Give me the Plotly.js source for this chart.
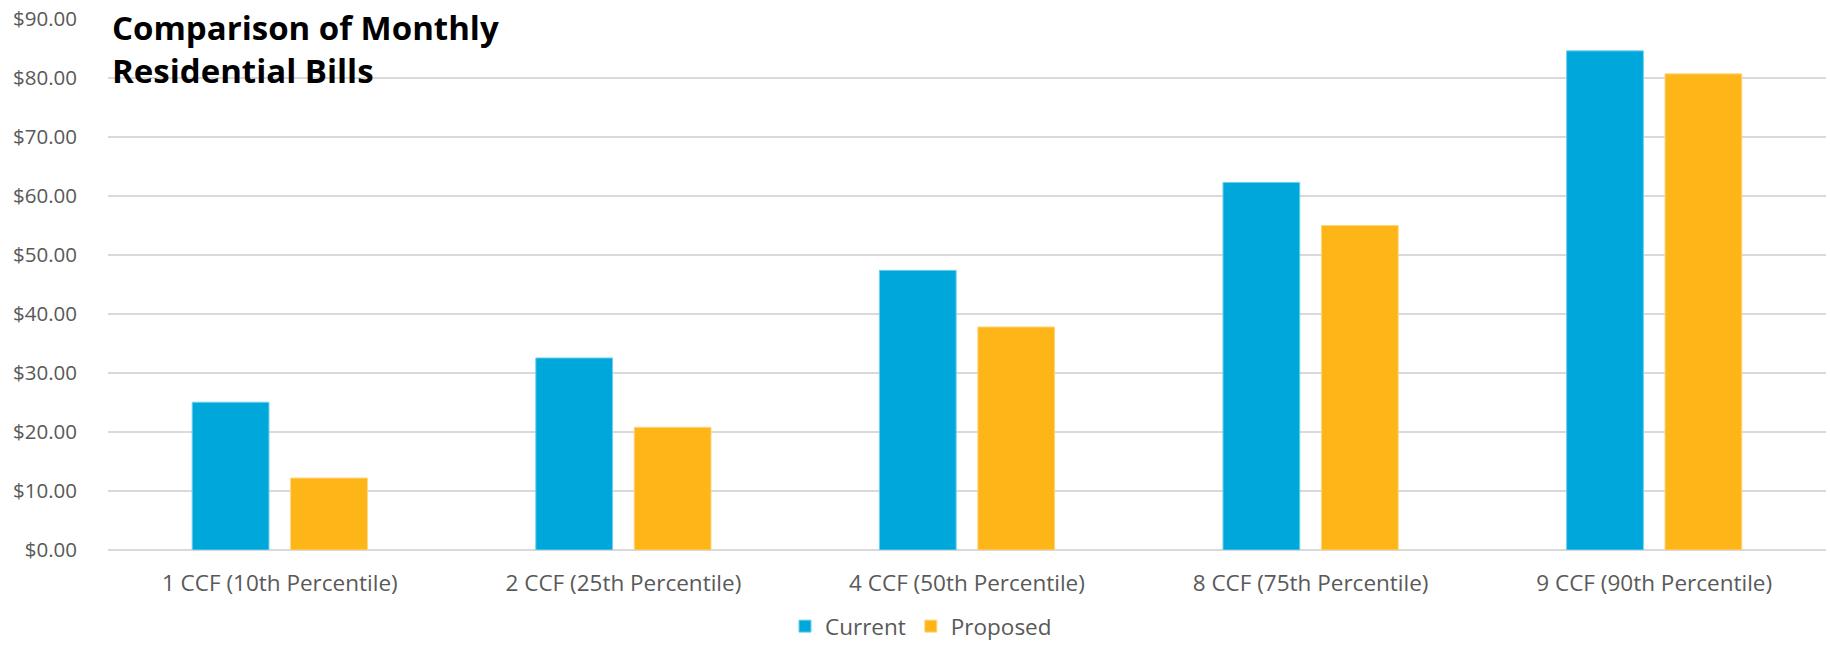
<!DOCTYPE html>
<html>
<head>
<meta charset="utf-8">
<script src="https://cdn.plot.ly/plotly-3.0.1.min.js"></script>
<style>
  html, body { margin: 0; padding: 0; background: #fff; }
  #chart { width: 1830px; height: 648px; }
</style>
</head>
<body>
<div id="chart"></div>
<script>
const categories = [
  "1 CCF (10th Percentile)",
  "2 CCF (25th Percentile)",
  "4 CCF (50th Percentile)",
  "8 CCF (75th Percentile)",
  "9 CCF (90th Percentile)"
];
const currentBills = [25.05, 32.55, 47.4, 62.3, 84.6];
const proposedBills = [12.2, 20.8, 37.8, 55.0, 80.7];
const seriesNames = ["Current", "Proposed"];
const yTickValues = [0, 10, 20, 30, 40, 50, 60, 70, 80, 90];
const yTickLabels = ["$0.00", "$10.00", "$20.00", "$30.00", "$40.00", "$50.00", "$60.00", "$70.00", "$80.00", "$90.00"];
const chartTitle = "Comparison of Monthly<br>Residential Bills";

const yTickFont = { family: "Open Sans, sans-serif", size: 20.5, color: "#595959" };
const xTickFont = { family: "Open Sans, sans-serif", size: 22.5, color: "#595959" };

const traces = [
  {
    type: "bar",
    name: seriesNames[0],
    x: categories,
    y: currentBills,
    marker: { color: "#00A7DB", line: { color: "#6FD0EE", width: 1 } },
    hoverinfo: "none"
  },
  {
    type: "bar",
    name: seriesNames[1],
    x: categories,
    y: proposedBills,
    marker: { color: "#FDB518", line: { color: "#FFD580", width: 1 } },
    hoverinfo: "none"
  }
];

const layout = {
  width: 1830,
  height: 648,
  margin: { l: 108, r: 4, t: 19, b: 98 },
  paper_bgcolor: "#ffffff",
  plot_bgcolor: "#ffffff",
  barmode: "group",
  bargap: 0.427,
  bargroupgap: 0.22,
  annotations: [
    {
      text: chartTitle,
      xref: "paper",
      yref: "paper",
      x: 0.001,
      xanchor: "left",
      y: 1.03,
      yanchor: "top",
      align: "left",
      showarrow: false,
      font: { family: "Open Sans, sans-serif", size: 33, color: "#000000", weight: 700 }
    }
  ],
  xaxis: {
    type: "category",
    tickfont: xTickFont,
    showgrid: false,
    showline: false,
    ticks: "",
    ticklen: 0,
    ticklabelstandoff: 17,
    automargin: false
  },
  yaxis: {
    range: [0, 90],
    tickvals: yTickValues,
    ticktext: yTickLabels,
    tickfont: yTickFont,
    showgrid: true,
    gridcolor: "#D9D9D9",
    gridwidth: 1.5,
    zeroline: true,
    zerolinecolor: "#D9D9D9",
    zerolinewidth: 1.5,
    showline: false,
    ticks: "",
    ticklabelstandoff: 30,
    automargin: false
  },
  showlegend: true,
  legend: {
    orientation: "h",
    xref: "container",
    yref: "container",
    x: 921 / 1830,
    xanchor: "center",
    y: 0,
    yanchor: "bottom",
    font: xTickFont,
    itemwidth: 30,
    tracegroupgap: 0
  }
};

Plotly.newPlot("chart", traces, layout, { displayModeBar: false, staticPlot: true });
</script>
</body>
</html>
